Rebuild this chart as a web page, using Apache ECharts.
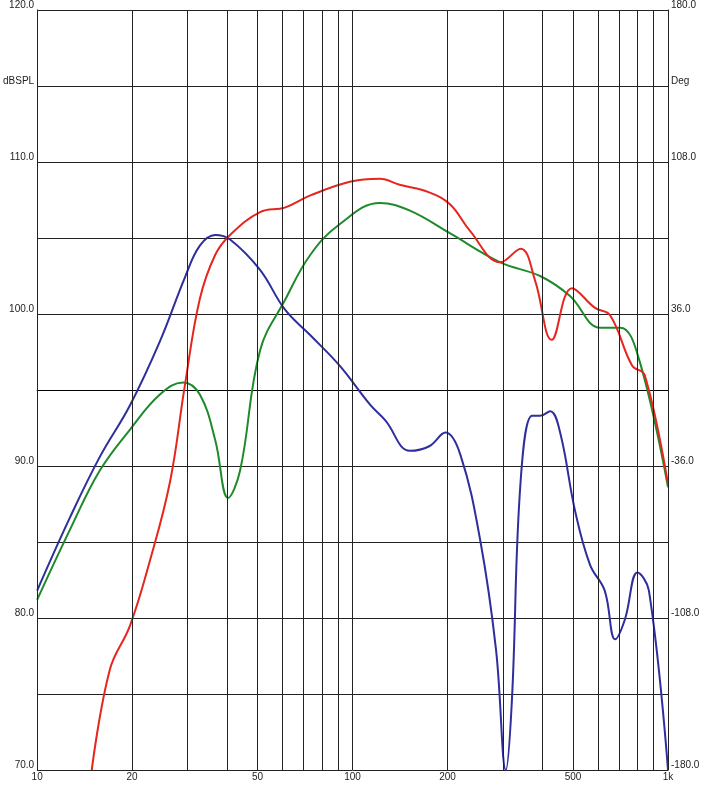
<!DOCTYPE html>
<html><head><meta charset="utf-8">
<script src="https://cdn.jsdelivr.net/npm/echarts@6/dist/echarts.min.js"></script>
<style>html,body{margin:0;padding:0;background:#fff}#c{width:705px;height:790px}</style>
</head><body><div id="c"></div>
<script>
const redFreq=[14.9,17,19.7,22.8,26.4,29.4,32.8,36.7,40.9,50.9,61,73.5,98,122,141,175,204,235,294,341,379,428,496,587,656,770,843,1000];
const redDb=[70,76.6,79.5,83.8,89,95.3,101,103.9,105.2,106.7,107,107.8,108.7,108.9,108.5,108,107.2,105.5,103.4,104.3,102.2,98.3,101.7,100.4,99.9,96.6,96,88.8];
const greenFreq=[10,12.7,15.8,19.7,24.5,29,32.8,36.7,40.3,44,50.9,61,73.5,91,122,152,204,294,393,488,610,706,810,1000];
const greenDb=[81.2,85.8,89.7,92.4,94.7,95.5,94.7,91.7,87.9,89.7,97.6,100.9,103.9,105.9,107.3,106.8,105.3,103.4,102.5,101.2,99.1,99.1,97,88.6];
const blueFreq=[10,12.7,15.8,19.7,24.5,29.4,32.8,36.7,40.9,50.9,61,73.5,91,114,127,152,175,197,220,254,285,306,320,341,371,393,423,455,508,566,630,680,730,800,870,1000];
const blueDb=[81.8,86.6,90.6,94,98.2,102.4,104.5,105.2,104.9,102.9,100.3,98.6,96.6,94,93,91,91.3,92.2,90.7,85.1,77.9,70,74.6,89,93.3,93.3,93.6,92.2,87,83.5,81.8,78.6,79.9,83,81.8,70];
const gridFreqs=[10,20,30,40,50,60,70,80,90,100,200,300,400,500,600,700,800,900,1000];
const freqLabels={10:'10',20:'20',50:'50',100:'100',200:'200',500:'500',1000:'1k'};
const zip=(a,b)=>a.map((v,i)=>[v,b[i]]);
const chart=echarts.init(document.getElementById('c'));
const ff='Arial, Liberation Sans, sans-serif';
chart.setOption({
  backgroundColor:'#fff',animation:false,
  grid:{left:37,right:37,top:10,bottom:20},
  xAxis:{type:'log',min:10,max:1000,logBase:10,axisLabel:{show:false},axisTick:{show:false},splitLine:{show:false},
    axisLine:{lineStyle:{color:'#000',width:1}}},
  yAxis:[
    {type:'value',min:70,max:120,interval:5,axisTick:{show:false},
     axisLine:{show:true,lineStyle:{color:'#000'}},
     splitLine:{lineStyle:{color:'#222',width:1}},
     axisLabel:{color:'#222',fontFamily:ff,fontSize:10,margin:3,verticalAlign:'bottom',
       formatter:v=>v===115?'dBSPL':(v%10===0?v.toFixed(1):'')}},
    {type:'value',min:-180,max:180,interval:36,axisTick:{show:false},
     axisLine:{show:true,lineStyle:{color:'#000'}},splitLine:{show:false},
     axisLabel:{color:'#222',fontFamily:ff,fontSize:10,margin:3,verticalAlign:'bottom',
       formatter:v=>v===144?'Deg':([-180,-108,-36,36,108,180].includes(v)?v.toFixed(1):'')}}
  ],
  series:[
    {type:'line',data:[],markLine:{silent:true,symbol:'none',animation:false,
      lineStyle:{color:'#222',width:1,type:'solid'},
      label:{show:true,position:'start',color:'#222',fontFamily:ff,fontSize:10,distance:2,
        formatter:p=>freqLabels[p.value]||''},
      data:gridFreqs.map(f=>({xAxis:f}))}},
    {type:'line',data:zip(greenFreq,greenDb),smooth:0.4,showSymbol:false,lineStyle:{color:'#1f8a2c',width:2}},
    {type:'line',data:zip(blueFreq,blueDb),smooth:0.4,showSymbol:false,lineStyle:{color:'#2e2e9c',width:2}},
    {type:'line',data:zip(redFreq,redDb),smooth:0.4,showSymbol:false,lineStyle:{color:'#e5261e',width:2}}
  ]
});
</script></body></html>
